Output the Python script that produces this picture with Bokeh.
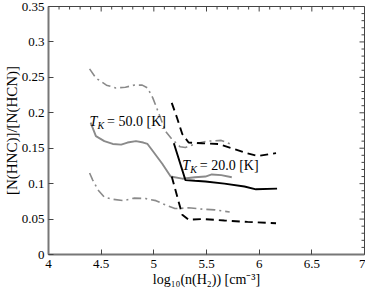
import numpy as np
from bokeh.plotting import figure
from bokeh.models import Range1d, ColumnDataSource
from bokeh.core.properties import value
from bokeh.embed import file_html
from bokeh.resources import INLINE

# ---- data ----
t50_upper_x = [4.39, 4.45, 4.55, 4.64, 4.73, 4.81, 4.89, 4.94, 4.99, 5.05, 5.11, 5.17, 5.25, 5.30, 5.39, 5.51, 5.64, 5.74]
t50_upper_y = [0.262, 0.249, 0.239, 0.235, 0.236, 0.239, 0.239, 0.235, 0.221, 0.198, 0.174, 0.163, 0.152, 0.151, 0.156, 0.160, 0.161, 0.155]

t50_mid_x = [4.40, 4.45, 4.53, 4.61, 4.69, 4.75, 4.83, 4.90, 4.94, 4.99, 5.08, 5.16, 5.27, 5.39, 5.49, 5.55, 5.64, 5.74]
t50_mid_y = [0.186, 0.167, 0.160, 0.156, 0.155, 0.158, 0.160, 0.158, 0.156, 0.146, 0.128, 0.110, 0.107, 0.109, 0.110, 0.113, 0.112, 0.109]

t50_lower_x = [4.39, 4.42, 4.47, 4.53, 4.61, 4.71, 4.81, 4.92, 5.02, 5.11, 5.20, 5.25, 5.33, 5.46, 5.58, 5.72]
t50_lower_y = [0.115, 0.105, 0.091, 0.081, 0.078, 0.076, 0.0795, 0.079, 0.076, 0.070, 0.065, 0.065, 0.066, 0.064, 0.063, 0.060]

t20_mid_x = [5.19, 5.30, 5.39, 5.49, 5.67, 5.86, 5.97, 6.17]
t20_mid_y = [0.157, 0.105, 0.104, 0.103, 0.100, 0.096, 0.092, 0.093]

t20_upper_x = [5.17, 5.22, 5.27, 5.33, 5.46, 5.61, 5.74, 5.88, 5.99, 6.16]
t20_upper_y = [0.214, 0.193, 0.170, 0.158, 0.157, 0.156, 0.150, 0.143, 0.139, 0.143]

t20_lower_x = [5.17, 5.24, 5.27, 5.33, 5.46, 5.67, 5.89, 6.16]
t20_lower_y = [0.110, 0.072, 0.056, 0.049, 0.050, 0.048, 0.046, 0.044]

label_x = [4.39, 5.27]
label_y = [0.188, 0.1255]
label_rest = [" = 50.0 [K]", " = 20.0 [K]"]

x_ticks = [4, 4.5, 5, 5.5, 6, 6.5, 7]
y_ticks = [0, 0.05, 0.1, 0.15, 0.2, 0.25, 0.3, 0.35]
x_tick_labels = ["4", "4.5", "5", "5.5", "6", "6.5", "7"]
y_tick_labels = ["0", "0.05", "0.1", "0.15", "0.2", "0.25", "0.3", "0.35"]

x_title = "log\u2081\u2080(n(H\u2082)) [cm\u207b\u00b3]"
y_title = "[N(HNC)]/[N(HCN)]"

SERIF = "Liberation Serif"
GREY = "#8a8a8a"
TICK = "#444444"

p = figure(width=365, height=289, output_backend="svg", toolbar_location=None,
           x_range=Range1d(4, 7), y_range=Range1d(0, 0.35),
           min_border_left=43, min_border_right=1, min_border_top=6, min_border_bottom=32,
           x_axis_label=x_title, y_axis_label=y_title)
p.grid.visible = False
p.outline_line_color = TICK
p.background_fill_color = "white"
p.border_fill_color = "white"

for ax, ticks, labels in ((p.xaxis[0], x_ticks, x_tick_labels), (p.yaxis[0], y_ticks, y_tick_labels)):
    ax.ticker = ticks
    ax.ticker.num_minor_ticks = 5
    ax.major_label_overrides = dict(zip(ticks, labels))
    ax.axis_line_color = "#777777"
    ax.axis_line_width = 2
    ax.major_tick_in = 5
    ax.major_tick_out = 0
    ax.minor_tick_in = 3
    ax.minor_tick_out = 0
    ax.major_tick_line_color = TICK
    ax.minor_tick_line_color = TICK
    ax.major_label_text_font = SERIF
    ax.major_label_text_font_size = "13px"
    ax.major_label_text_color = "black"
    ax.axis_label_text_font = SERIF
    ax.axis_label_text_font_style = "normal"
    ax.axis_label_text_color = "black"
p.xaxis[0].axis_label_text_font_size = "14px"
p.yaxis[0].axis_label_text_font_size = "15px"
p.xaxis[0].major_label_standoff = 5
p.xaxis[0].axis_label_standoff = 1
p.yaxis[0].major_label_standoff = 4
p.yaxis[0].axis_label_standoff = -1

# ticks on top and right edges (half of each dash is clipped by the frame)
x_minor = np.concatenate([np.linspace(a, b, 6)[1:-1] for a, b in zip(x_ticks[:-1], x_ticks[1:])])
y_minor = np.concatenate([np.linspace(a, b, 6)[1:-1] for a, b in zip(y_ticks[:-1], y_ticks[1:])])
p.scatter(x_ticks, [y_ticks[-1]] * len(x_ticks), marker="dash", size=10, angle=np.pi / 2, line_color=TICK)
p.scatter(x_minor, [y_ticks[-1]] * len(x_minor), marker="dash", size=6, angle=np.pi / 2, line_color=TICK)
p.scatter([x_ticks[-1]] * len(y_ticks), y_ticks, marker="dash", size=10, line_color=TICK)
p.scatter([x_ticks[-1]] * len(y_minor), y_minor, marker="dash", size=6, line_color=TICK)

# 50 K (grey)
p.line(t50_upper_x, t50_upper_y, line_color=GREY, line_width=1.6, line_dash="9 4 2 4")
p.line(t50_mid_x, t50_mid_y, line_color=GREY, line_width=1.9)
p.line(t50_lower_x, t50_lower_y, line_color=GREY, line_width=1.6, line_dash="9 4 2 4")
# 20 K (black)
p.line(t20_upper_x, t20_upper_y, line_color="black", line_width=1.9, line_dash="8 5")
p.line(t20_mid_x, t20_mid_y, line_color="black", line_width=1.9)
p.line(t20_lower_x, t20_lower_y, line_color="black", line_width=1.9, line_dash="8 5")

src = ColumnDataSource(dict(x=label_x, y=label_y, rest=label_rest,
                            t=["T"] * len(label_x), k=["K"] * len(label_x)))
p.text(x="x", y="y", text="t", source=src, text_font=value(SERIF), text_font_style="italic",
       text_font_size="14px", text_baseline="middle", text_align="left", text_color="black")
p.text(x="x", y="y", text="k", source=src, text_font=value(SERIF), text_font_style="italic",
       text_font_size="10px", text_baseline="middle", text_align="left", text_color="black",
       x_offset=8, y_offset=4)
p.text(x="x", y="y", text="rest", source=src, text_font=value(SERIF),
       text_font_size="14px", text_baseline="middle", text_align="left", text_color="black",
       x_offset=17.5)

open("out.html", "w").write(file_html(p, INLINE))
